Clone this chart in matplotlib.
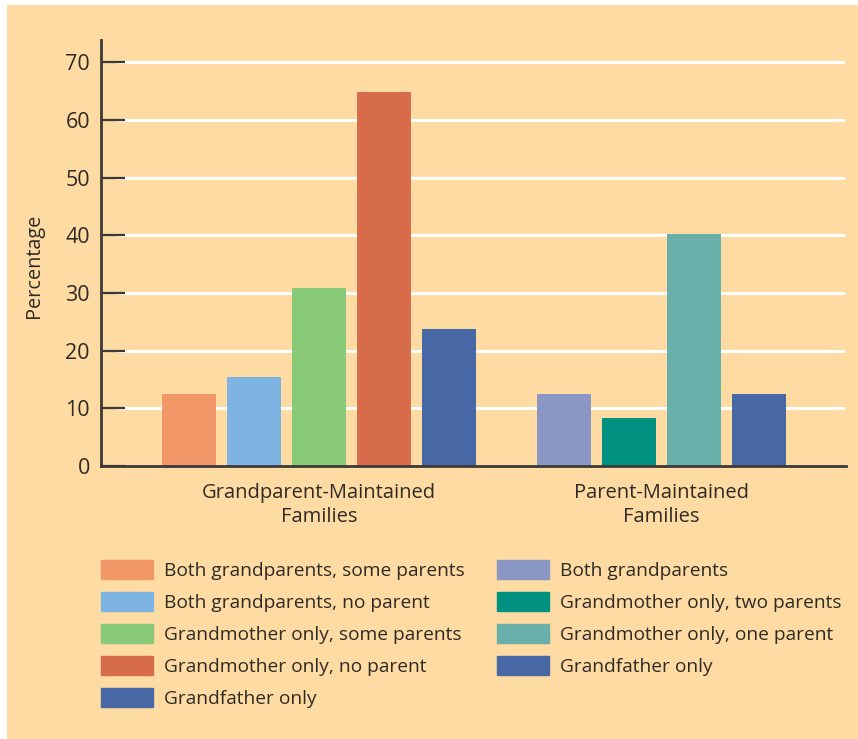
import matplotlib.pyplot as plt
import matplotlib.patches as mpatches
import numpy as np

plt.rcParams['font.family'] = ['Open Sans', 'DejaVu Sans']

# data
groups = ["Grandparent-Maintained\nFamilies", "Parent-Maintained\nFamilies"]

gp_labels = ["Both grandparents, some parents", "Both grandparents, no parent",
             "Grandmother only, some parents", "Grandmother only, no parent",
             "Grandfather only"]
gp_values = [12.5, 15.4, 30.8, 64.8, 23.7]
gp_colors = ["#F19768", "#7DB4E1", "#87C977", "#D66C49", "#4768A5"]

p_labels = ["Both grandparents", "Grandmother only, two parents",
            "Grandmother only, one parent", "Grandfather only"]
p_values = [12.5, 8.3, 40.2, 12.5]
p_colors = ["#8A97C4", "#009180", "#69B0AB", "#4768A5"]

yticks = [0, 10, 20, 30, 40, 50, 60, 70]

bg = "#FDDBA2"
ink = "#2F2A26"
axis_col = "#3C3A38"

W, H = 858, 739
fig = plt.figure(figsize=(W / 100, H / 100), dpi=100)
fig.patch.set_facecolor("white")
fig.patches.append(mpatches.Rectangle((7 / W, 0), 1 - 7 / W, 1 - 5 / H,
                                      transform=fig.transFigure,
                                      facecolor=bg, edgecolor="none", zorder=-10))

ax = fig.add_axes([101 / W, 1 - 466 / H, (846 - 101) / W, (466 - 40) / H])
ax.set_facecolor("none")

bw = 0.83
x1 = np.arange(len(gp_values))
x2 = np.arange(len(p_values)) + 5.77
ax.bar(x1, gp_values, width=bw, color=gp_colors, zorder=3)
ax.bar(x2, p_values, width=bw, color=p_colors, zorder=3)

ax.set_xlim((101 - 189) / 65, (846 - 189) / 65)
ax.set_ylim(0, (466 - 40) / 5.77)

# white gridlines starting after the inward ticks
for t in yticks[1:]:
    ax.axhline(t, xmin=0.023, xmax=0.996, color="white", lw=2.2, zorder=1)

ax.set_yticks(yticks)
ax.tick_params(axis="y", direction="in", length=17, width=1.6, color=axis_col,
               labelsize=15.5, labelcolor=ink, pad=8)
ax.set_xticks([x1.mean(), x2.mean()])
ax.set_xticklabels(groups, fontsize=14.5, color=ink, linespacing=1.3)
ax.tick_params(axis="x", length=0, pad=12)

for s in ["top", "right"]:
    ax.spines[s].set_visible(False)
for s in ["left", "bottom"]:
    ax.spines[s].set_color(axis_col)
    ax.spines[s].set_linewidth(2)
    ax.spines[s].set_zorder(4)

ax.set_ylabel("Percentage", fontsize=14.3, color=ink)
ax.yaxis.set_label_coords((44 - 101) / 745, (466 - 266) / 426)

fs = 13.8
h1 = [mpatches.Patch(color=c) for c in gp_colors]
h2 = [mpatches.Patch(color=c) for c in p_colors]
kw = dict(frameon=False, fontsize=fs, labelcolor=ink, loc="upper left",
          borderpad=0, borderaxespad=0, handlelength=2.7, handleheight=1.15,
          handletextpad=0.58, labelspacing=0.63)
leg1 = fig.legend(h1, gp_labels, bbox_to_anchor=(101 / W, 1 - 560 / H), **kw)
leg2 = fig.legend(h2, p_labels, bbox_to_anchor=(497 / W, 1 - 560 / H), **kw)

fig.savefig("out.png", dpi=100, facecolor=fig.get_facecolor())
